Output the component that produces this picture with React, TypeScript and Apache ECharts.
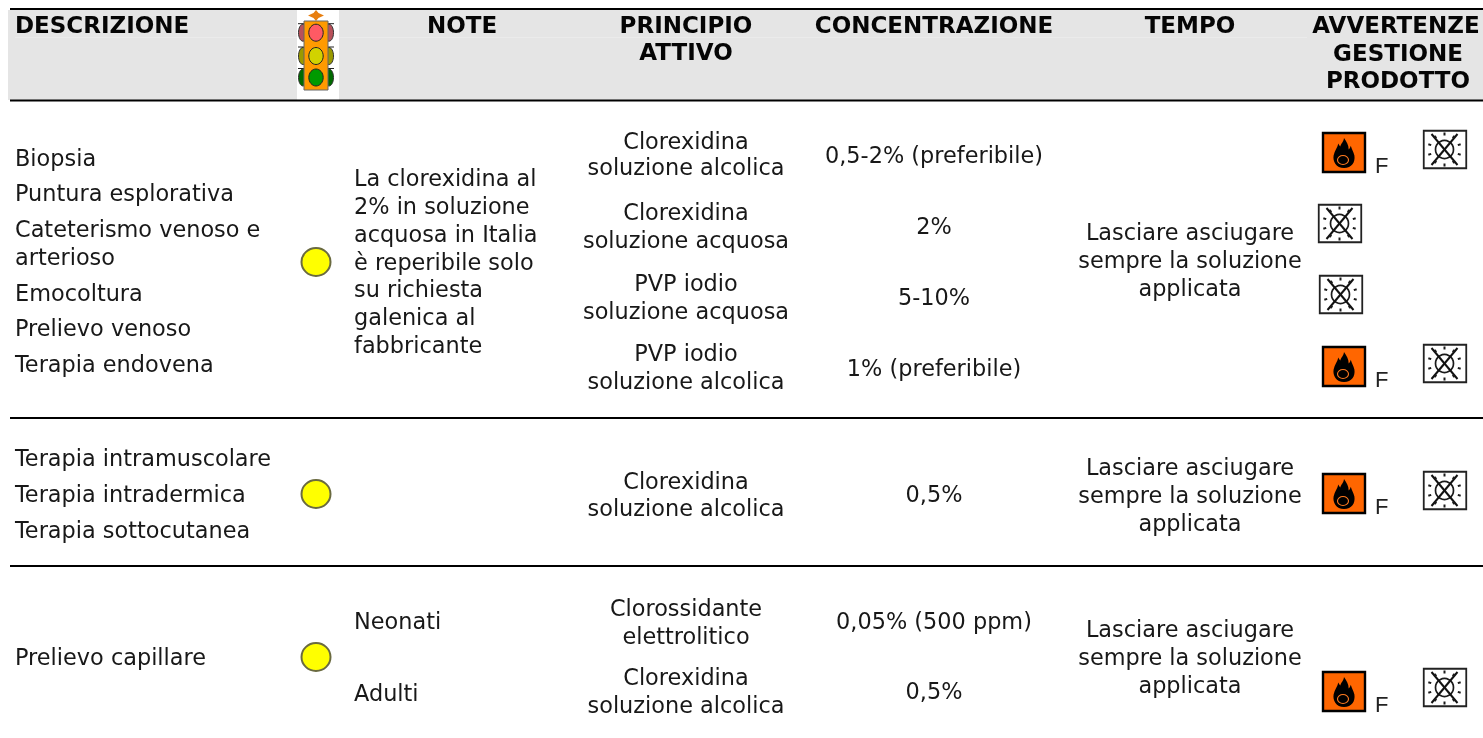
import React, { useEffect, useRef } from "react";
import * as echarts from "echarts";

const headerLabels = ["DESCRIZIONE", "NOTE", "PRINCIPIO", "ATTIVO", "CONCENTRAZIONE", "TEMPO", "AVVERTENZE", "GESTIONE", "PRODOTTO"];
const procedures = ["Biopsia", "Puntura esplorativa", "Cateterismo venoso e", "arterioso", "Emocoltura", "Prelievo venoso", "Terapia endovena", "Terapia intramuscolare", "Terapia intradermica", "Terapia sottocutanea", "Prelievo capillare"];
const notes = ["La clorexidina al", "2% in soluzione", "acquosa in Italia", "è reperibile solo", "su richiesta", "galenica al", "fabbricante", "Neonati", "Adulti"];
const actives = ["Clorexidina", "soluzione alcolica", "Clorexidina", "soluzione acquosa", "PVP iodio", "soluzione acquosa", "PVP iodio", "soluzione alcolica", "Clorexidina", "soluzione alcolica", "Clorossidante", "elettrolitico", "Clorexidina", "soluzione alcolica"];
const concentrations = ["0,5-2% (preferibile)", "2%", "5-10%", "1% (preferibile)", "0,5%", "0,05% (500 ppm)", "0,5%"];
const timeLines = ["Lasciare asciugare", "sempre la soluzione", "applicata"];

const FONT = '"DejaVu Sans", Verdana, sans-serif';
const INK = "#181818";

const FLAME = "M50 0 C48 14 38 18 36 28 C30 24 30 20 28 18 C26 30 14 42 10 58 C6 78 20 100 50 100 C80 100 94 80 90 58 C86 46 80 38 76 26 C74 32 72 36 68 38 C68 24 60 12 50 0 Z";
echarts.graphic.registerShape("flame", echarts.graphic.extendPath(FLAME, {}) as any);

function txt(text: string, x: number, y: number, align: string = "left", bold = false): any {
  return { type: "text", x, y, style: { text, x: 0, y: 0, fill: bold ? "#050505" : INK, align, verticalAlign: "middle", font: `${bold ? "bold 23px" : "22.4px"} ${FONT}` } };
}
function hline(y: number, lineWidth: number, x1 = 10): any {
  return { type: "line", shape: { x1, y1: y, x2: 1483, y2: y }, style: { stroke: "#000", lineWidth } };
}

function flameSign(x: number, y: number): any[] {
  return [
    { type: "rect", shape: { x: x + 1, y: y + 1, width: 42, height: 39 }, style: { fill: "#ff6600", stroke: "#000", lineWidth: 2.4 } },
    { type: "flame", x: x + 9, y: y + 6, scaleX: 0.26, scaleY: 0.3, style: { fill: "#000" } },
    { type: "ellipse", shape: { cx: x + 21, cy: y + 28, rx: 5.5, ry: 4.5 }, style: { fill: "none", stroke: "#ff7a20", lineWidth: 1.1 } },
    { type: "text", x: x + 53, y: y + 33, style: { text: "F", x: 0, y: 0, fill: "#222", align: "left", verticalAlign: "middle", font: '22px "Liberation Sans", sans-serif' } },
  ];
}
function sunSign(x: number, y: number): any[] {
  const cx = x + 21.5, cy = y + 19.5;
  const out: any[] = [
    { type: "rect", shape: { x: x + 0.75, y: y + 0.75, width: 42.5, height: 37.5 }, style: { fill: "#fff", stroke: "#222", lineWidth: 1.8 } },
    { type: "circle", shape: { cx, cy, r: 9 }, style: { fill: "none", stroke: "#1a1a1a", lineWidth: 1.7 } },
    { type: "line", shape: { x1: cx - 13, y1: cy - 15.5, x2: cx + 13, y2: cy + 15.5 }, style: { stroke: "#111", lineWidth: 2 } },
    { type: "line", shape: { x1: cx + 13, y1: cy - 15.5, x2: cx - 13, y2: cy + 15.5 }, style: { stroke: "#111", lineWidth: 2 } },
  ];
  for (let i = 0; i < 10; i++) {
    const a = (i * Math.PI) / 5 + Math.PI / 2;
    out.push({ type: "line", shape: { x1: cx + Math.cos(a) * 14, y1: cy + Math.sin(a) * 14, x2: cx + Math.cos(a) * 17, y2: cy + Math.sin(a) * 17 }, style: { stroke: "#1a1a1a", lineWidth: 2 } });
  }
  return out;
}
function trafficLight(): any[] {
  const cx = 316;
  const lamps = [[32.7, "#ff5a64", "#b8505a"], [56, "#d2d200", "#9a9a00"], [77.5, "#009a00", "#006a00"]] as [number, string, string][];
  const out: any[] = [
    { type: "rect", shape: { x: 297, y: 10, width: 42, height: 90 }, style: { fill: "#fff" } },
    { type: "polygon", shape: { points: [[cx, 10], [cx + 2.5, 13], [cx + 8, 15.5], [cx + 2.5, 18], [cx, 21], [cx - 2.5, 18], [cx - 8, 15.5], [cx - 2.5, 13]] }, style: { fill: "#e87f10" } },
  ];
  for (const [cy, , side] of lamps) {
    out.push({ type: "ellipse", shape: { cx: cx - 13, cy, rx: 4.5, ry: 8.5 }, style: { fill: side, stroke: "#333", lineWidth: 1 } });
    out.push({ type: "ellipse", shape: { cx: cx + 13, cy, rx: 4.5, ry: 8.5 }, style: { fill: side, stroke: "#333", lineWidth: 1 } });
    out.push({ type: "line", shape: { x1: cx - 18, y1: cy - 9, x2: cx + 18, y2: cy - 9 }, style: { stroke: "#222", lineWidth: 1 } });
  }
  out.push({ type: "rect", shape: { x: cx - 12, y: 21, width: 24, height: 69 }, style: { fill: "#ff9a00", stroke: "#666", lineWidth: 1 } });
  for (const [cy, c] of lamps) {
    out.push({ type: "ellipse", shape: { cx, cy, rx: 7.2, ry: 8.5 }, style: { fill: c, stroke: "#222", lineWidth: 1 } });
  }
  return out;
}
function lamp(cy: number): any {
  return { type: "ellipse", shape: { cx: 316, cy, rx: 14.5, ry: 14 }, style: { fill: "#ffff00", stroke: "#6a6a40", lineWidth: 2 } };
}

const procY = [158, 193, 229, 257, 293, 328, 364, 458, 494, 530, 657];
const noteY = [178, 206, 234, 262, 289, 317, 345, 621, 693];
const activeY = [141, 167, 212, 240, 283, 311, 353, 381, 481, 508, 608, 636, 677, 705];
const concY = [155, 226, 297, 368, 494, 621, 691];
const timeYs = [[232, 260, 288], [467, 495, 523], [629, 657, 685]];
const flameAt = [[1322, 132], [1322, 346], [1322, 473], [1322, 671]];
const sunAt = [[1423, 130], [1318, 204], [1319, 275], [1423, 344], [1423, 471], [1423, 668]];
const headerPos = [[15, 25, "left"], [462, 25, "center"], [686, 25, "center"], [686, 52, "center"], [934, 25, "center"], [1190, 25, "center"], [1396, 25, "center"], [1398, 53, "center"], [1398, 80, "center"]] as [number, number, string][];

export default function App() {
  const ref = useRef<HTMLDivElement>(null);
  useEffect(() => {
    const chart = echarts.init(ref.current!, undefined, { renderer: "svg" });
    const els: any[] = [
      { type: "rect", shape: { x: 8, y: 10, width: 1475, height: 90 }, style: { fill: "#e5e5e5" } },
      { type: "line", shape: { x1: 15, y1: 37.5, x2: 1307, y2: 37.5 }, style: { stroke: "#ebebeb", lineWidth: 1 } },
      ...trafficLight(),
      hline(9, 2), hline(100.5, 2), hline(418, 2), hline(566, 2),
      ...headerLabels.map((t, i) => txt(t, headerPos[i][0], headerPos[i][1], headerPos[i][2], true)),
      ...procedures.map((t, i) => txt(t, 15, procY[i])),
      ...notes.map((t, i) => txt(t, 354, noteY[i])),
      ...actives.map((t, i) => txt(t, 686, activeY[i], "center")),
      ...concentrations.map((t, i) => txt(t, 934, concY[i], "center")),
      ...timeYs.flatMap((ys) => ys.map((y, i) => txt(timeLines[i], 1190, y, "center"))),
      lamp(262), lamp(494), lamp(657),
      ...flameAt.flatMap(([x, y]) => flameSign(x, y)),
      ...sunAt.flatMap(([x, y]) => sunSign(x, y)),
    ];
    chart.setOption({ animation: false, graphic: { elements: els } });
    return () => chart.dispose();
  }, []);
  return <div ref={ref} style={{ position: "fixed", left: 0, top: 0, width: 1483, height: 738 }} />;
}
